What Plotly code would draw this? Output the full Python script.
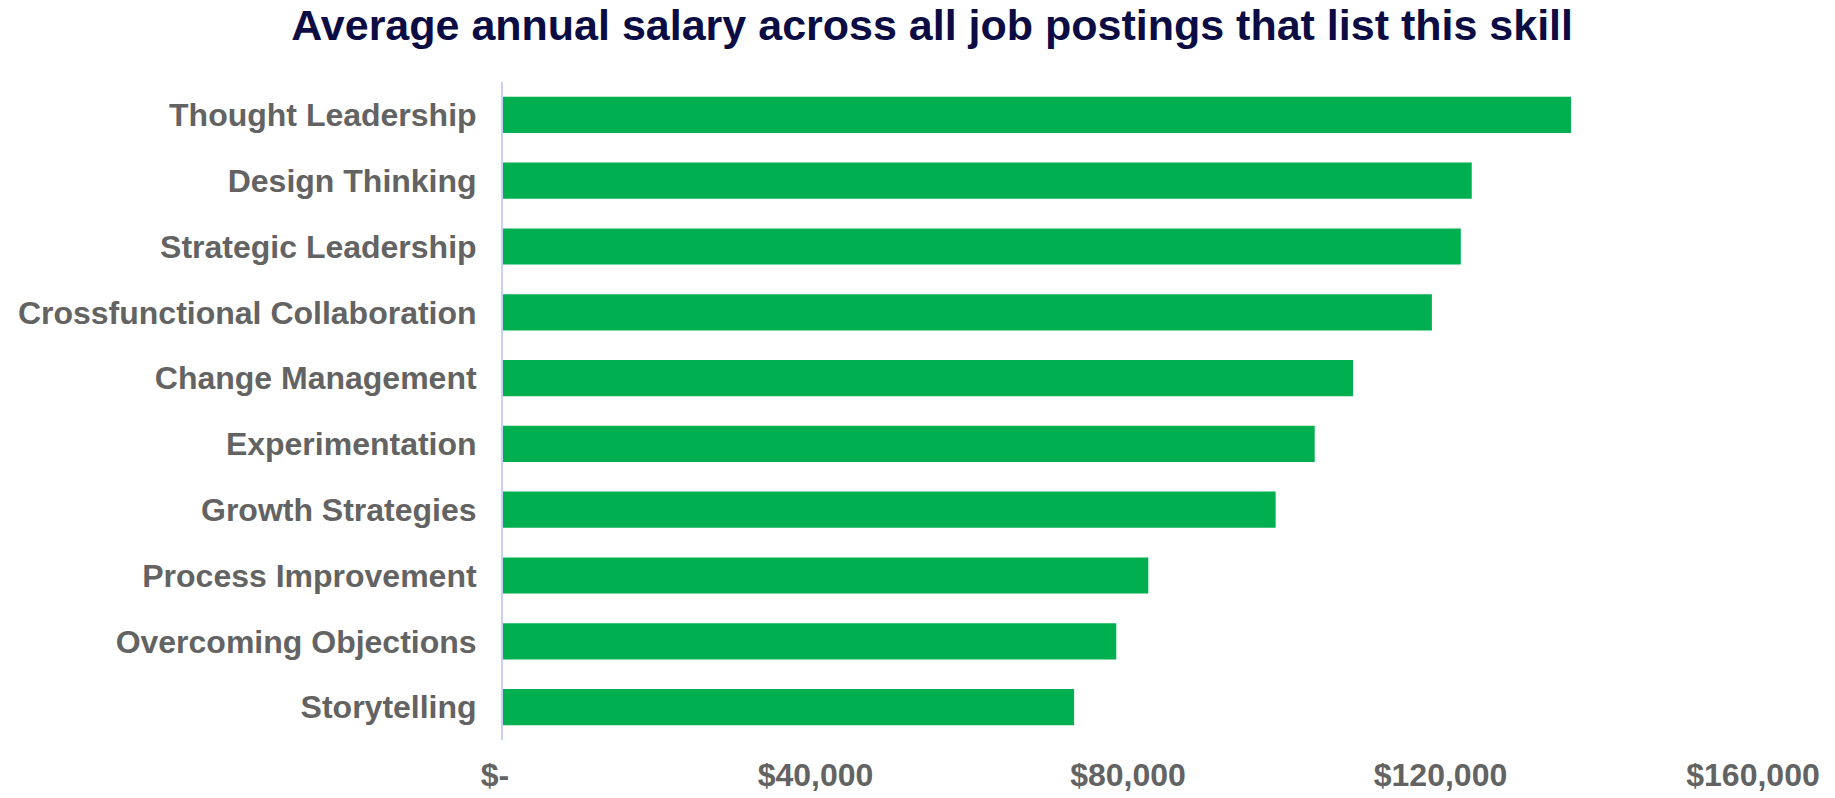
import plotly.graph_objects as go

# Skills listed top to bottom, with the average annual salary for each
skills = [
    "Thought Leadership",
    "Design Thinking",
    "Strategic Leadership",
    "Crossfunctional Collaboration",
    "Change Management",
    "Experimentation",
    "Growth Strategies",
    "Process Improvement",
    "Overcoming Objections",
    "Storytelling",
]
avg_salary = [136700, 124000, 122600, 118900, 108800, 103900, 98900, 82600, 78500, 73100]

# Salary axis ticks
tick_values = [0, 40000, 80000, 120000, 160000]
tick_labels = ["$-\u2002", "$40,000", "$80,000", "$120,000", "$160,000"]

FONT = "Liberation Sans, Arial, sans-serif"

fig = go.Figure(
    go.Bar(
        x=avg_salary,
        y=skills,
        orientation="h",
        marker=dict(color="#00B050", line=dict(width=0)),
        hovertemplate="%{y}: $%{x:,.0f}<extra></extra>",
    )
)

fig.update_layout(
    width=1835,
    height=798,
    margin=dict(l=503, r=82, t=82, b=58),
    paper_bgcolor="white",
    plot_bgcolor="white",
    bargap=0.45,
    showlegend=False,
    title=dict(
        text="<b>Average annual salary across all job postings that list this skill</b>",
        font=dict(family=FONT, size=43, color="#0B0C44"),
        x=0.508,
        xanchor="center",
        xref="container",
        y=1 - 25 / 798,
        yanchor="middle",
        yref="container",
    ),
    font=dict(family=FONT),
)

fig.update_xaxes(
    range=[0, 160000],
    tickvals=tick_values,
    ticktext=tick_labels,
    tickfont=dict(family=FONT, size=32, color="#636363", weight="bold"),
    showgrid=False,
    zeroline=False,
    showline=False,
    ticks="",
    ticklabelstandoff=13,
    automargin=False,
    fixedrange=True,
)

fig.update_yaxes(
    autorange="reversed",
    tickfont=dict(family=FONT, size=32, color="#636363", weight="bold"),
    showgrid=False,
    zeroline=False,
    showline=True,
    linecolor="#C8D0F6",
    linewidth=2,
    ticks="",
    ticklabelstandoff=18,
    automargin=False,
    fixedrange=True,
)

fig.write_html("out.html")
